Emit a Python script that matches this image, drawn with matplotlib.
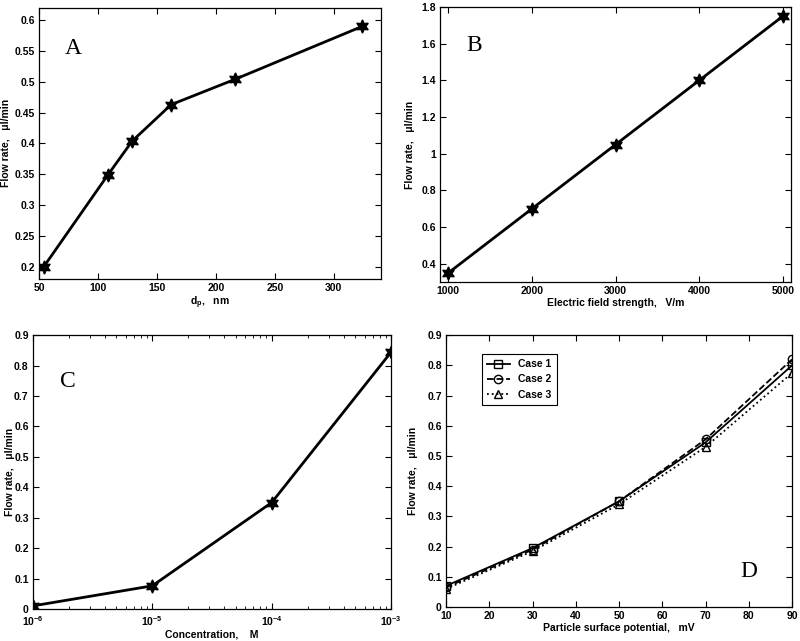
import matplotlib

matplotlib.use("Agg")
import matplotlib.pyplot as plt
import matplotlib.ticker as ticker

# panel A: particle diameter
dp_nm = [54, 108, 129, 162, 216, 324]
flow_a = [0.200, 0.348, 0.404, 0.463, 0.504, 0.590]

# panel B: electric field
field_vm = [1000, 2000, 3000, 4000, 5000]
flow_b = [0.35, 0.70, 1.05, 1.40, 1.75]

# panel C: concentration
conc_m = [1e-6, 1e-5, 1e-4, 1e-3]
flow_c = [0.010, 0.076, 0.350, 0.845]

# panel D: surface potential, three cases
zeta_mv = [10, 30, 50, 70, 90]
case1 = [0.070, 0.195, 0.350, 0.545, 0.800]
case2 = [0.065, 0.190, 0.350, 0.555, 0.820]
case3 = [0.060, 0.185, 0.340, 0.530, 0.775]
case_labels = ["Case 1", "Case 2", "Case 3"]

plt.rcParams["font.family"] = ["Liberation Sans", "DejaVu Sans"]
FS = 7.5
HEX = (6, 1, 0)


def style_ax(ax, xlabel, ylab_x):
    ax.tick_params(direction="in", top=True, right=True, labelsize=FS, length=4.5, width=0.8, pad=3)
    ax.tick_params(which="minor", direction="in", top=True, right=True, length=2.5, width=0.6)
    for lab in ax.get_xticklabels() + ax.get_yticklabels():
        lab.set_fontweight("bold")
    for sp in ax.spines.values():
        sp.set_linewidth(0.9)
    ax.set_ylabel("Flow rate,   \u03bcl/min", fontsize=FS, fontweight="bold")
    ax.yaxis.set_label_coords(ylab_x, 0.5)
    ax.set_xlabel(xlabel, fontsize=FS, fontweight="bold", labelpad=1)


def letter(ax, s, x, y):
    ax.text(x, y, s, transform=ax.transAxes, fontsize=17, family="Liberation Serif", va="center", ha="left")


fig = plt.figure(figsize=(8.0, 6.41), dpi=100)

# A
ax = fig.add_axes([0.049, 0.565, 0.427, 0.4225])
ax.plot(dp_nm, flow_a, color="black", lw=2, marker=HEX, ms=9.5, mfc="black", mec="black")
ax.set_xlim(50, 340)
ax.set_ylim(0.18, 0.62)
ax.set_xticks([50, 100, 150, 200, 250, 300])
ax.set_yticks([0.2, 0.25, 0.3, 0.35, 0.4, 0.45, 0.5, 0.55, 0.6])
ax.yaxis.set_major_formatter(ticker.FuncFormatter(lambda v, _: f"{v:g}"))
style_ax(ax, "d$_\\mathregular{p}$,   nm", -0.082)
letter(ax, "A", 0.075, 0.85)

# B
ax = fig.add_axes([0.55, 0.56, 0.439, 0.429])
ax.plot(field_vm, flow_b, color="black", lw=2, marker=HEX, ms=9.5, mfc="black", mec="black")
ax.set_xlim(900, 5100)
ax.set_ylim(0.3, 1.8)
ax.set_xticks([1000, 2000, 3000, 4000, 5000])
ax.set_yticks([0.4, 0.6, 0.8, 1.0, 1.2, 1.4, 1.6, 1.8])
ax.yaxis.set_major_formatter(ticker.FuncFormatter(lambda v, _: f"{v:g}"))
style_ax(ax, "Electric field strength,   V/m", -0.071)
letter(ax, "B", 0.075, 0.86)

# C
ax = fig.add_axes([0.041, 0.05, 0.448, 0.427])
ax.plot(conc_m, flow_c, color="black", lw=2, marker=HEX, ms=9.5, mfc="black", mec="black")
ax.set_xscale("log")
ax.set_xlim(1e-6, 1e-3)
ax.set_ylim(0, 0.9)
ax.set_yticks([0, 0.1, 0.2, 0.3, 0.4, 0.5, 0.6, 0.7, 0.8, 0.9])
ax.yaxis.set_major_formatter(ticker.FuncFormatter(lambda v, _: f"{v:g}"))
style_ax(ax, "Concentration,    M", -0.05)
ax.tick_params(axis="x", pad=4)
letter(ax, "C", 0.075, 0.83)

# D
ax = fig.add_axes([0.5575, 0.053, 0.4325, 0.424])
ax.plot(zeta_mv, case1, color="black", lw=1.3, ls="-", marker="s", ms=6, mfc="none", label=case_labels[0])
ax.plot(zeta_mv, case2, color="black", lw=1.3, ls="--", marker="o", ms=6, mfc="none", label=case_labels[1])
ax.plot(zeta_mv, case3, color="black", lw=1.3, ls=":", marker="^", ms=6, mfc="none", label=case_labels[2])
ax.set_xlim(10, 90)
ax.set_ylim(0, 0.9)
ax.set_xticks([10, 20, 30, 40, 50, 60, 70, 80, 90])
ax.set_yticks([0, 0.1, 0.2, 0.3, 0.4, 0.5, 0.6, 0.7, 0.8, 0.9])
ax.yaxis.set_major_formatter(ticker.FuncFormatter(lambda v, _: f"{v:g}"))
style_ax(ax, "Particle surface potential,   mV", -0.081)
leg = ax.legend(loc="upper left", bbox_to_anchor=(0.088, 0.95), prop={"weight": "bold", "size": FS},
                fancybox=False, edgecolor="black", framealpha=1, handlelength=2.2, borderpad=0.5,
                labelspacing=0.5)
leg.get_frame().set_linewidth(0.8)
letter(ax, "D", 0.85, 0.13)

fig.savefig("out.png", dpi=100, facecolor="white")
plt.close(fig)
